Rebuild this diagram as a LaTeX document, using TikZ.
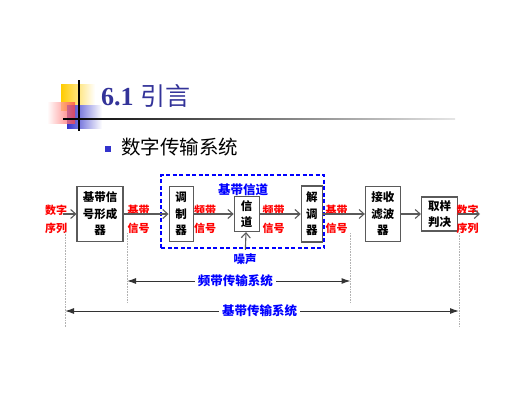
\documentclass[tikz,border=0pt]{standalone}
\usepackage{fontspec}
\setmainfont{Liberation Serif}
\newfontfamily\cjk{Noto Sans CJK SC}
\usetikzlibrary{positioning}
\usetikzlibrary{arrows.meta}
\definecolor{titleblue}{HTML}{333399}
\definecolor{decoblue}{HTML}{3333CC}
\definecolor{decoyellow}{HTML}{FFCC00}
\definecolor{boxgray}{HTML}{5A5A5A}
\tikzset{node distance=40pt,
blk/.style={
draw=boxgray,
line width=1.1pt,
fill=white,
inner sep=0pt,
align=center,
font=\cjk\bfseries\fontsize{11.5}{16.5}\selectfont},
sig/.style={
text=red,
align=center,
font=\cjk\bfseries\fontsize{11}{18}\selectfont},
note/.style={
text=blue,
font=\cjk\bfseries\fontsize{12.5}{14}\selectfont},
guide/.style={
draw=gray!60,
densely dotted,
line width=0.6pt},
dim/.style={
draw=black!80,
line width=1pt,
{Latex[length=9pt,width=6pt]}-{Latex[length=9pt,width=6pt]}},
every edge/.style={
draw=boxgray,
line width=1.1pt,
-{Straight Barb[length=5pt,width=9pt]}}}

\begin{document}
\begin{tikzpicture}[x=1pt, y=1pt]
\useasboundingbox (0,0) rectangle (532,400);
% title decoration
\shade[left color=decoyellow, middle color=decoyellow, right color=white] (61,290) rectangle (95,316);
\shade[left color=decoblue, middle color=decoblue, right color=white] (67,272) rectangle (102,295);
\shade[left color=white, right color=red!75, opacity=0.75] (47,277) rectangle (75,298);
\draw[line width=1.8pt] (79,320) -- (79,269);
\shade[left color=black, right color=gray!20] (63,280.2) rectangle (455,281.8);
\node[anchor=base west, inner sep=0, text=titleblue] (title) at (101,295)
  {\fontsize{26}{30}\selectfont\bfseries 6.1 {\cjk\mdseries\fontsize{25}{30}\selectfont 引言}};
\fill[decoblue] (105,248) rectangle (111,254);
\node[anchor=west, inner sep=0, font=\cjk\fontsize{19.5}{22}\selectfont] (sub) at (121,252.5) {数字传输系统};
% blocks
\node[blk, minimum width=46pt, minimum height=55pt] (src) at (100,186) {基带信\\号形成\\器};
\node[blk, minimum width=24pt, minimum height=55pt, right=45pt of src] (mod) {调\\制\\器};
\node[blk, minimum width=25pt, minimum height=35pt, right=40pt of mod] (chan) {信\\道};
\node[blk, minimum width=21pt, minimum height=56pt, right=41pt of chan] (demod) {解\\调\\器};
\node[blk, minimum width=35pt, minimum height=55pt, right=42pt of demod] (rx) {接收\\滤波\\器};
\node[blk, minimum width=36pt, minimum height=34pt, right=20pt of rx] (dec) {取样\\判决};
\coordinate (in) at (63,186);
\coordinate (out) at (480,186);
% signal labels
\node[sig] (seqin) at (56,181) {数字\\序列};
\node[sig] (bb1) at (138.5,181) {基带\\信号};
\node[sig] (pb1) at (205,181) {频带\\信号};
\node[sig] (pb2) at (273.5,181) {频带\\信号};
\node[sig] (bb2) at (336.5,181) {基带\\信号};
\node[sig] (seqout) at (467.5,181) {数字\\序列};
% channel
\draw[blue, line width=1.1pt, dash pattern=on 4pt off 2.5pt] (161,152) rectangle (324,225);
\node[note] (chanlbl) at (243,210) {基带信道};
\node[note, font=\cjk\bfseries\fontsize{11.5}{14}\selectfont] (noise) at (245,141) {噪声};
\draw (in) edge (src);
\draw (src) edge (mod);
\draw (mod) edge (chan);
\draw (chan) edge (demod);
\draw (demod) edge (rx);
\draw (rx) edge (dec);
\draw (dec) edge (out);
\draw (noise) edge (chan);
% extents
\draw[guide] (65,168) -- (65,73);
\draw[guide] (127,167) -- (127,98);
\draw[guide] (350.5,167) -- (350.5,98);
\draw[guide] (459,167) -- (459,73);
\coordinate (pbL) at (127,119);
\coordinate (pbR) at (350.5,119);
\coordinate (bbL) at (65,89);
\coordinate (bbR) at (459,89);
\draw[dim] (pbL) -- node[note, fill=white, pos=0.485] (pbtxt) {频带传输系统} (pbR);
\draw[dim] (bbL) -- node[note, fill=white, pos=0.494] (bbtxt) {基带传输系统} (bbR);
\end{tikzpicture}
\end{document}
